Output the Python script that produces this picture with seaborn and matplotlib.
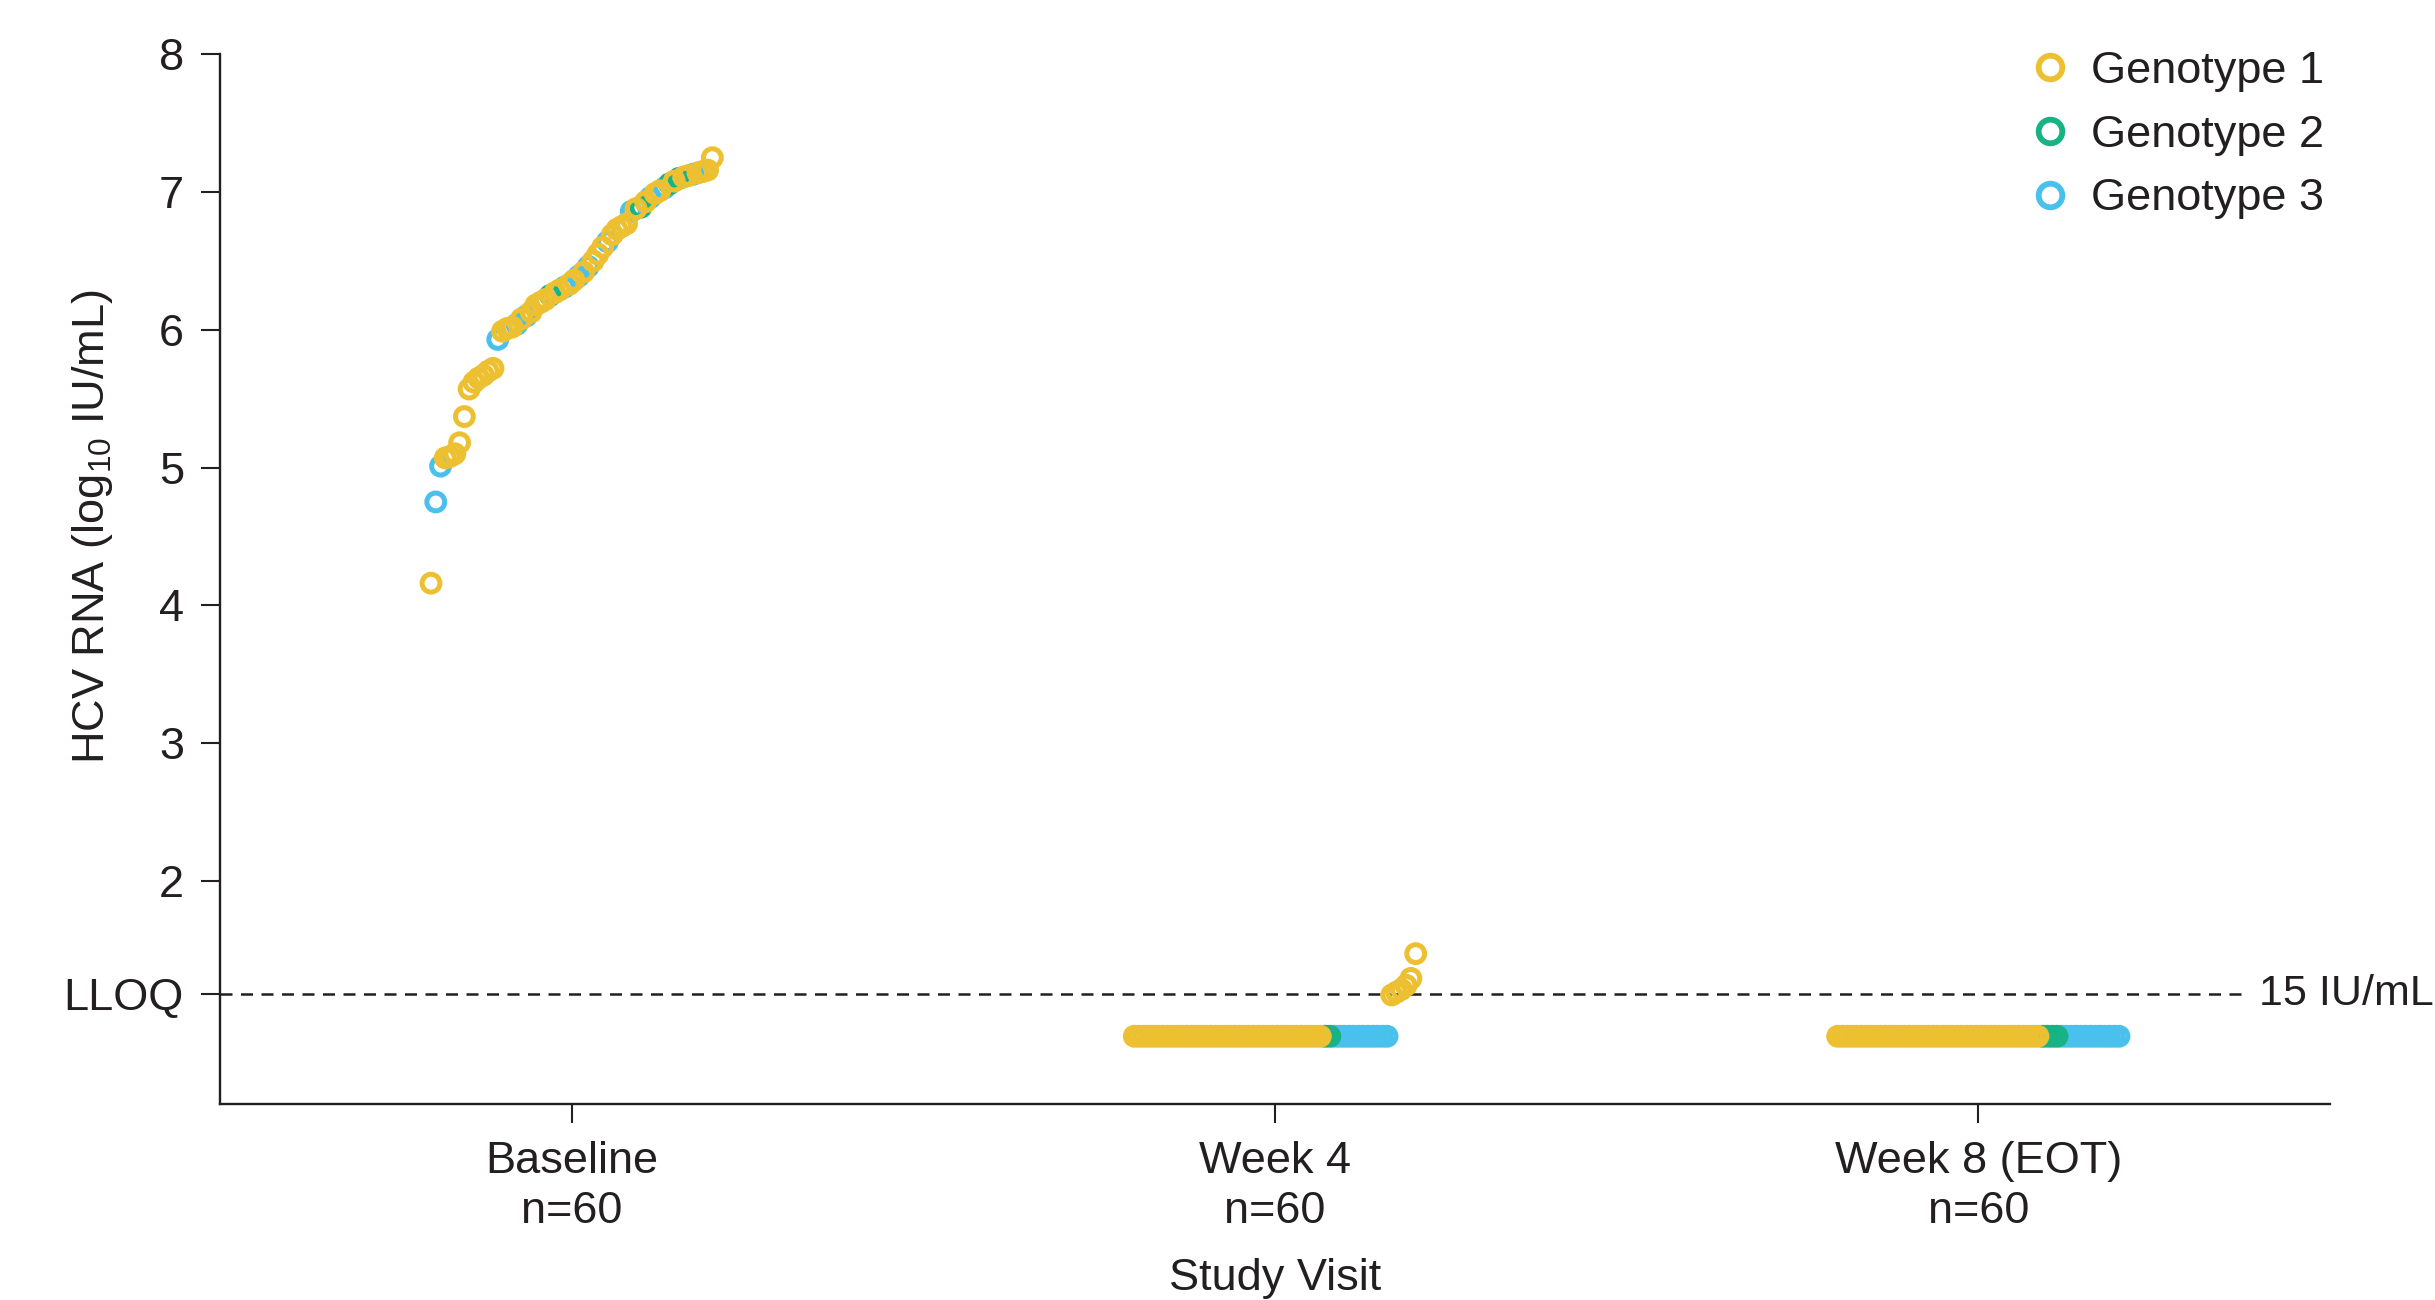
import numpy as np
import pandas as pd
import matplotlib
matplotlib.use("Agg")
import matplotlib.pyplot as plt
import matplotlib.transforms as mtransforms
from matplotlib.lines import Line2D
import seaborn as sns

# ---------------------------------------------------------------- data
visits = ["Baseline", "Week 4", "Week 8 (EOT)"]
visit_n = [60, 60, 60]
genotypes = ["Genotype 1", "Genotype 2", "Genotype 3"]
genotype_colors = ["#ECC031", "#17B384", "#4AC0EC"]

lloq = np.log10(15)          # 15 IU/mL
blq_value = 0.87             # plotting position for results below LLOQ

# Baseline log10 HCV RNA, ascending, with genotype (1, 2, 3)
baseline_values = [4.16, 4.75, 5.01, 5.07, 5.08, 5.10, 5.18, 5.37, 5.57, 5.62,
                   5.65, 5.67, 5.70, 5.72, 5.93, 5.99, 6.01, 6.02, 6.04, 6.08,
                   6.10, 6.13, 6.18, 6.20, 6.22, 6.25, 6.27, 6.29, 6.31, 6.33,
                   6.36, 6.39, 6.42, 6.46, 6.50, 6.55, 6.60, 6.64, 6.69, 6.73,
                   6.75, 6.77, 6.86, 6.88, 6.89, 6.93, 6.96, 6.99, 7.01, 7.03,
                   7.06, 7.08, 7.10, 7.11, 7.12, 7.13, 7.14, 7.15, 7.16, 7.25]
baseline_gt = [1, 3, 3, 1, 1, 1, 1, 1, 1, 1,
               1, 1, 1, 1, 3, 1, 1, 1, 3, 1,
               3, 1, 1, 1, 1, 2, 1, 1, 3, 1,
               1, 3, 1, 3, 1, 1, 1, 3, 1, 1,
               1, 1, 3, 1, 2, 1, 3, 1, 1, 3,
               2, 1, 2, 1, 1, 3, 1, 1, 1, 1]

# Week 4: patients below LLOQ per genotype, then quantifiable results
week4_blq_counts = [40, 2, 12]
week4_detected_values = [1.17, 1.19, 1.21, 1.24, 1.29, 1.47]
week4_detected_gt = [1, 1, 1, 1, 1, 1]

# Week 8 (end of treatment): all below LLOQ
week8_blq_counts = [43, 4, 13]
week8_detected_values = []
week8_detected_gt = []


def visit_rows(idx, values, gts):
    """Place each patient of a visit side by side, ordered as given."""
    n = len(values)
    rows = []
    for rank, (v, g) in enumerate(zip(values, gts)):
        offset = -0.2 + 0.4 * rank / (n - 1)
        rows.append({"visit": visits[idx], "x": idx + offset,
                     "value": v, "gt": g, "Genotype": genotypes[g - 1]})
    return rows


def blq_then_detected(counts, det_values, det_gt):
    vals, gts = [], []
    for g, c in enumerate(counts, start=1):
        vals += [blq_value] * c
        gts += [g] * c
    vals += list(det_values)
    gts += list(det_gt)
    return vals, gts


w4_vals, w4_gt = blq_then_detected(week4_blq_counts, week4_detected_values, week4_detected_gt)
w8_vals, w8_gt = blq_then_detected(week8_blq_counts, week8_detected_values, week8_detected_gt)

rows = (visit_rows(0, baseline_values, baseline_gt)
        + visit_rows(1, w4_vals, w4_gt)
        + visit_rows(2, w8_vals, w8_gt))
df = pd.DataFrame(rows)
# genotype 1 is drawn last so it sits on top
df = df.sort_values("gt", ascending=False, kind="stable")

# ---------------------------------------------------------------- style
sns.set_theme(style="ticks")
ink = "#231F20"
plt.rcParams.update({
    "font.family": ["Liberation Sans", "DejaVu Sans"],
    "mathtext.fontset": "custom",
    "mathtext.rm": "Liberation Sans",
    "mathtext.it": "Liberation Sans",
    "text.color": ink,
    "axes.labelcolor": ink,
    "xtick.color": ink,
    "ytick.color": ink,
    "axes.edgecolor": ink,
})
fs = 32.5

fig = plt.figure(figsize=(24.35, 13), dpi=100)
ax = fig.add_axes([0.09035, 0.15077, 0.86653, 0.80738])

sns.scatterplot(data=df, x="x", y="value", hue="Genotype", hue_order=genotypes,
                palette=genotype_colors, s=165, linewidth=3.6, legend=False, ax=ax)
# hollow rings: move the hue colour to the edge
pts = ax.collections[0]
pts.set_edgecolors(pts.get_facecolors())
pts.set_facecolors("none")

# LLOQ reference line
ax.axhline(lloq, xmin=0, xmax=0.959, color=ink, lw=1.8,
           ls=(0, (4.8, 3.4)), zorder=0)
trans = mtransforms.blended_transform_factory(ax.transAxes, ax.transData)
ax.text(0.9662, lloq, "15 IU/mL", transform=trans, ha="left", va="center",
        fontsize=31, color=ink, clip_on=False)

# axes
ax.set_xlim(-0.5, 2.5)
ax.set_ylim(0.378, 8.0)
ax.set_xticks(range(len(visits)))
ax.set_xticklabels([f"{v}\nn={n}" for v, n in zip(visits, visit_n)])
for lab in ax.get_xticklabels():
    lab.set_linespacing(1.28)
ax.set_yticks([lloq, 2, 3, 4, 5, 6, 7, 8])
ax.set_yticklabels(["LLOQ", "2", "3", "4", "5", "6", "7", "8"])
ax.tick_params(axis="both", labelsize=fs, length=14, width=1.5)
ax.tick_params(axis="y", pad=12)
ax.tick_params(axis="x", pad=13)
for side in ("top", "right"):
    ax.spines[side].set_visible(False)
for side in ("left", "bottom"):
    ax.spines[side].set_linewidth(1.7)

ax.set_xlabel("Study Visit", fontsize=fs)
ax.set_ylabel(r"HCV RNA (log$_{10}$ IU/mL)", fontsize=fs)
ax.xaxis.set_label_coords(0.5, -0.147)
ax.yaxis.set_label_coords(-0.050, 0.55)

handles = [Line2D([], [], ls="none", marker="o", markersize=17, markeredgewidth=4.2,
                  markerfacecolor="none", markeredgecolor=c)
           for c in genotype_colors]
ax.legend(handles, genotypes, loc="upper right", bbox_to_anchor=(0.997, 1.003),
          frameon=False, fontsize=fs, handletextpad=0.3, labelspacing=0.5,
          borderaxespad=0, borderpad=0, handlelength=1.2)

fig.savefig("out.png", dpi=100, facecolor="white")
